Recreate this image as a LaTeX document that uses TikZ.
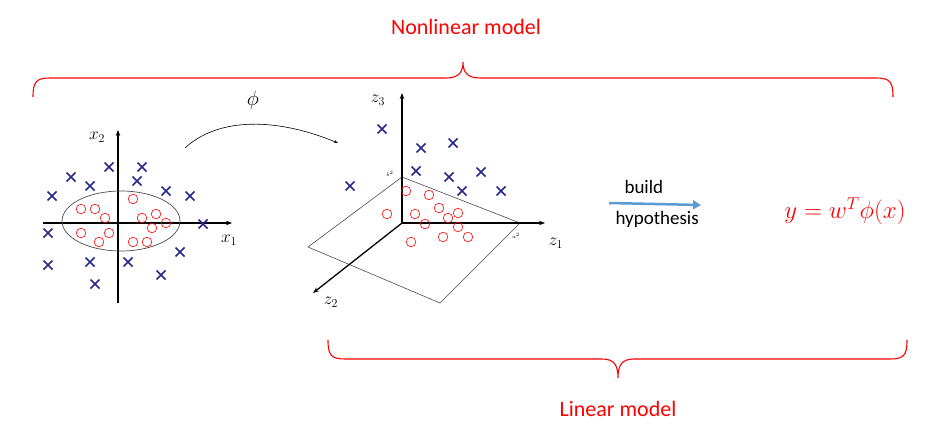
\documentclass[tikz,border=0pt]{standalone}
\usepackage{fontspec}
\setmainfont{Carlito}
\usetikzlibrary{arrows.meta}
\definecolor{xb}{RGB}{40,40,140}
\definecolor{ab}{RGB}{91,155,213}
\begin{document}
\begin{tikzpicture}[x=1pt,y=-1pt,
 cr/.style={xb,line width=1.6pt},
 ci/.style={red,line width=0.6pt},
 ax/.style={line width=1.3pt,-{Stealth[length=6pt]}},
 br/.style={red,line width=1.1pt},
 lab/.style={font=\fontsize{18}{18}\selectfont}]
\useasboundingbox (0,0) rectangle (937,433);
\newcommand{\xx}[1]{\draw[cr] ($(#1)+(-4,-4)$)--($(#1)+(4,4)$) ($(#1)+(-4,4)$)--($(#1)+(4,-4)$);}
% left plot
\draw[ax] (43,223) -- (232,223);
\draw[ax] (118,303) -- (118,130);
\draw[gray!60!black,line width=0.7pt] (121,221) ellipse (59 and 30);
\node[lab] (x2) at (97,137) {$x_2$};
\node[lab] (x1) at (229,240) {$x_1$};
\foreach \p in {(52,196),(71,177),(90,186),(109,167),(142,167),(137,181),(166,191),(190,196),(203,224),(48,233),(48,265),(90,262),(95,284),(128,262),(161,275),(180,252)}
 \draw[cr] \p +(-4.5,-4.5) -- +(4.5,4.5) \p +(-4.5,4.5) -- +(4.5,-4.5);
\foreach \p in {(81,209),(95,209),(105,218),(133,199),(142,218),(156,214),(166,223),(152,228),(109,233),(81,233),(99,242),(133,242),(147,242)}
 \draw[ci] \p circle (4.8);
% 3D plot
\coordinate (O) at (402,223);
\draw[gray!60!black,line width=0.6pt] (402,177) -- (520,223) -- (440,303) -- (308,247) -- cycle;
\draw[ax] (O) -- (402,93);
\draw[ax] (O) -- (545,223);
\draw[ax] (O) -- (313,293);
\node[lab] (z3) at (378,100) {$z_3$};
\node[lab] (z1) at (556,243) {$z_1$};
\node[lab] (z2) at (331,302) {$z_2$};
\node[font=\tiny] (b2) at (390,174) {$b^2$};
\node[font=\tiny] (a2) at (516,236) {$a^2$};
\foreach \p in {(382,129),(421,148),(453,143),(416,171),(449,177),(481,172),(462,191),(501,191),(350,186)}
 \draw[cr] \p +(-4.5,-4.5) -- +(4.5,4.5) \p +(-4.5,4.5) -- +(4.5,-4.5);
\foreach \p in {(406,191),(429,195),(439,208),(458,213),(387,214),(415,214),(448,218),(425,224),(458,227),(468,237),(443,237),(411,242)}
 \draw[ci] \p circle (4.8);
% phi map
\coordinate (m1) at (185,148);
\coordinate (m2) at (338,143);
\draw[line width=0.6pt,-{Stealth[length=4pt]}] (m1) .. controls (215,120) and (270,115) .. (m2);
\node[font=\fontsize{22}{22}\selectfont] (phi) at (253,100) {$\phi$};
% braces
\draw[br] (33,97) .. controls (33,82) and (36,78) .. (50,78) -- (446,78) .. controls (459,78) and (463,72) .. (463,62)
 .. controls (463,72) and (467,78) .. (480,78) -- (876,78) .. controls (890,78) and (893,82) .. (893,97);
\node[red,font=\fontsize{22}{22}\selectfont] (nl) at (466,27) {Nonlinear model};
\draw[br] (328,340) .. controls (328,355) and (331,359) .. (345,359) -- (602,359) .. controls (614,359) and (618,365) .. (618,378)
 .. controls (618,365) and (622,359) .. (634,359) -- (890,359) .. controls (904,359) and (907,355) .. (907,340);
\node[red,font=\fontsize{22}{22}\selectfont] (lm) at (618,409) {Linear model};
% hypothesis
\coordinate (h1) at (609,203);
\coordinate (h2) at (701,205);
\draw[ab,line width=2.5pt,-{Triangle[length=8pt,width=9pt]}] (h1) -- (h2);
\node[font=\fontsize{19}{19}\selectfont,anchor=west] (bu) at (621,187) {build};
\node[font=\fontsize{19}{19}\selectfont,anchor=west] (hy) at (612,219) {hypothesis};
\node[red,font=\fontsize{24}{24}\selectfont] (eq) at (845,211) {$y = w^T\phi(x)$};
\end{tikzpicture}
\end{document}
